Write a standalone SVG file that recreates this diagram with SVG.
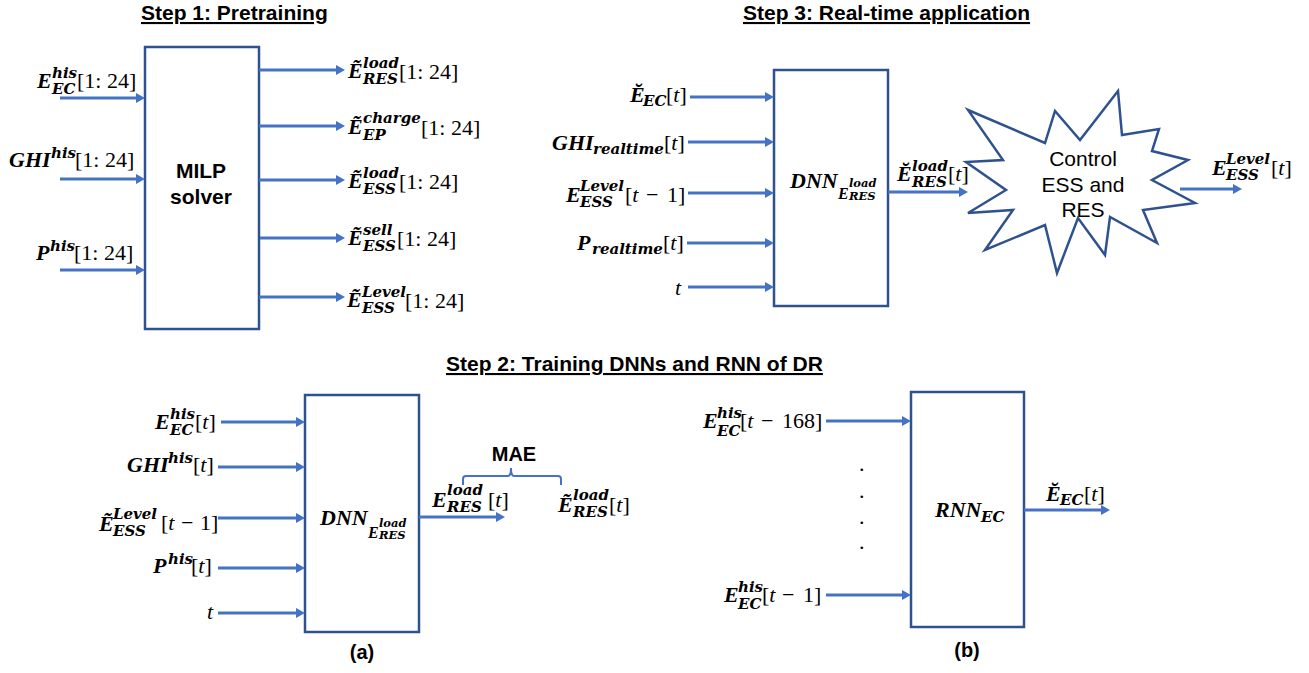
<svg xmlns="http://www.w3.org/2000/svg" width="1309" height="673" viewBox="0 0 1309 673">
<style>
.title{font-family:"Liberation Sans",Arial,sans-serif;font-weight:bold;font-size:21px;text-decoration:underline;fill:#000}
.box{fill:#fff;stroke:#2F528F;stroke-width:2.5}
.btxt{font-family:"Liberation Sans",Arial,sans-serif;font-weight:bold;font-size:21px;fill:#000;text-anchor:middle}
.rtxt{font-family:"Liberation Sans",Arial,sans-serif;font-size:21px;fill:#000;text-anchor:middle}
.cap{font-family:"Liberation Sans",Arial,sans-serif;font-weight:bold;font-size:20px;fill:#000;text-anchor:middle}
.arr{stroke:#4472C4;stroke-width:3;fill:none;marker-end:url(#ah)}
.v{font-family:"Liberation Serif","Times New Roman",serif;font-weight:bold;font-style:italic;font-size:22px;fill:#000}
.s{font-family:"DejaVu Serif",serif;font-weight:bold;font-style:italic;font-size:15px;fill:#000}
.ss{font-family:"DejaVu Serif",serif;font-weight:bold;font-style:italic;font-size:11.5px;fill:#000}
.sv{font-family:"Liberation Serif","Times New Roman",serif;font-weight:bold;font-style:italic;font-size:16px;fill:#000}
.b{font-family:"Liberation Serif","Times New Roman",serif;font-size:22px;fill:#000}
.it{font-style:italic}
</style>
<defs>
<marker id="ah" markerUnits="userSpaceOnUse" markerWidth="11" markerHeight="11" refX="2" refY="5" orient="auto">
<path d="M0,0 L9,5 L0,10 Z" fill="#4472C4"/>
</marker>
</defs>

<g id="titles">
<text class="title" x="141" y="20">Step 1: Pretraining</text>
<text class="title" x="743" y="20">Step 3: Real-time application</text>
<text class="title" x="446" y="371">Step 2: Training DNNs and RNN of DR</text>
<text class="cap" x="362" y="659">(a)</text>
<text class="cap" x="967" y="657">(b)</text>
</g>

<g id="milp-solver">
<rect class="box" x="145" y="47" width="114" height="282"/>
<text class="btxt" x="201" y="178">MILP</text>
<text class="btxt" x="201" y="204">solver</text>
</g>

<g id="dnn-realtime">
<rect class="box" x="774" y="70" width="114" height="236"/>
<text><tspan class="v" x="790" y="188">DNN</tspan><tspan class="sv" x="838" y="199">E</tspan><tspan class="ss" x="849" y="187">load</tspan><tspan class="ss" x="849" y="200">RES</tspan></text>
</g>

<g id="control-star">
<polygon class="box" points="968,110 1045,143 1055,111 1080,140 1118,91 1122,135 1159,129 1152,151 1188,160 1152,180 1195,203 1143,210 1157,243 1110,217 1105,255 1078,218 1057,273 1045,225 985,250 1013,210 968,213 1006,190 966,162 1003,160"/>
<text class="rtxt" x="1083" y="166">Control</text>
<text class="rtxt" x="1083" y="192">ESS and</text>
<text class="rtxt" x="1083" y="217">RES</text>
</g>

<g id="dnn-train">
<rect class="box" x="305" y="395" width="114" height="237"/>
<text><tspan class="v" x="320" y="525">DNN</tspan><tspan class="sv" x="368" y="538">E</tspan><tspan class="ss" x="379" y="527">load</tspan><tspan class="ss" x="379" y="539">RES</tspan></text>
</g>

<g id="rnn-train">
<rect class="box" x="911" y="392" width="113" height="235"/>
<text><tspan class="v" x="935" y="517">RNN</tspan><tspan class="s" x="981" y="522">EC</tspan></text>
</g>

<g id="connectors">
<line class="arr" x1="60" y1="98" x2="138" y2="98"/>
<line class="arr" x1="60" y1="179" x2="138" y2="179"/>
<line class="arr" x1="60" y1="270" x2="138" y2="270"/>
<line class="arr" x1="259" y1="70" x2="338" y2="70"/>
<line class="arr" x1="259" y1="126" x2="338" y2="126"/>
<line class="arr" x1="259" y1="180" x2="338" y2="180"/>
<line class="arr" x1="260" y1="238" x2="338" y2="238"/>
<line class="arr" x1="259" y1="297" x2="338" y2="297"/>

<line class="arr" x1="690" y1="97" x2="767" y2="97"/>
<line class="arr" x1="688" y1="142" x2="767" y2="142"/>
<line class="arr" x1="688" y1="193" x2="767" y2="193"/>
<line class="arr" x1="687" y1="243" x2="767" y2="243"/>
<line class="arr" x1="688" y1="287" x2="767" y2="287"/>
<line class="arr" x1="888" y1="192" x2="961" y2="192"/>
<line class="arr" x1="1180" y1="189" x2="1235" y2="189"/>

<line class="arr" x1="221" y1="422" x2="298" y2="422"/>
<line class="arr" x1="218" y1="467" x2="298" y2="467"/>
<line class="arr" x1="218" y1="518" x2="298" y2="518"/>
<line class="arr" x1="218" y1="568" x2="298" y2="568"/>
<line class="arr" x1="218" y1="613" x2="298" y2="613"/>
<line class="arr" x1="419" y1="517" x2="498" y2="517"/>
<path d="M463,485 V479 Q463,476 466,476 H508 Q511,476 511,468 Q511,476 514,476 H558 Q561,476 561,479 V485" fill="none" stroke="#4472C4" stroke-width="2"/>

<line class="arr" x1="826" y1="421" x2="904" y2="421"/>
<line class="arr" x1="826" y1="595" x2="904" y2="595"/>
<line class="arr" x1="1024" y1="510" x2="1103" y2="510"/>
</g>

<g id="labels">
<!-- Step 1 inputs -->
<text><tspan class="v" x="37" y="88">E</tspan><tspan class="s" x="52" y="78">his</tspan><tspan class="s" x="52" y="94">EC</tspan><tspan class="b" x="77" y="88">[1: 24]</tspan></text>
<text><tspan class="v" x="9" y="167">GHI</tspan><tspan class="s" x="51" y="158">his</tspan><tspan class="b" x="75" y="167">[1: 24]</tspan></text>
<text><tspan class="v" x="36" y="260">P</tspan><tspan class="s" x="50" y="251">his</tspan><tspan class="b" x="74" y="260">[1: 24]</tspan></text>
<!-- Step 1 outputs -->
<text><tspan class="v" x="348" y="78">Ẽ</tspan><tspan class="s" x="363" y="68">load</tspan><tspan class="s" x="363" y="84">RES</tspan><tspan class="b" x="399" y="79">[1: 24]</tspan></text>
<text><tspan class="v" x="348" y="134">Ẽ</tspan><tspan class="s" x="363" y="123">charge</tspan><tspan class="s" x="363" y="140">EP</tspan><tspan class="b" x="421" y="135">[1: 24]</tspan></text>
<text><tspan class="v" x="348" y="188">Ẽ</tspan><tspan class="s" x="363" y="178">load</tspan><tspan class="s" x="363" y="194">ESS</tspan><tspan class="b" x="399" y="189">[1: 24]</tspan></text>
<text><tspan class="v" x="348" y="245">Ẽ</tspan><tspan class="s" x="363" y="235">sell</tspan><tspan class="s" x="363" y="251">ESS</tspan><tspan class="b" x="397" y="246">[1: 24]</tspan></text>
<text><tspan class="v" x="347" y="307">Ẽ</tspan><tspan class="s" x="362" y="297">Level</tspan><tspan class="s" x="362" y="313">ESS</tspan><tspan class="b" x="405" y="308">[1: 24]</tspan></text>
<!-- Step 3 inputs -->
<text><tspan class="v" x="630" y="102">Ĕ</tspan><tspan class="s" x="643" y="106">EC</tspan><tspan class="b" x="666" y="102">[<tspan class="it">t</tspan>]</tspan></text>
<text><tspan class="v" x="552" y="150">GHI</tspan><tspan class="s" x="593" y="154">realtime</tspan><tspan class="b" x="664" y="150">[<tspan class="it">t</tspan>]</tspan></text>
<text><tspan class="v" x="566" y="202">E</tspan><tspan class="s" x="580" y="191">Level</tspan><tspan class="s" x="580" y="207">ESS</tspan><tspan class="b" x="625" y="202">[<tspan class="it">t</tspan></tspan><tspan class="b" x="646" y="202">−</tspan><tspan class="b" x="667" y="202">1]</tspan></text>
<text><tspan class="v" x="577" y="250">P</tspan><tspan class="s" x="592" y="254">realtime</tspan><tspan class="b" x="663" y="250">[<tspan class="it">t</tspan>]</tspan></text>
<text class="b it" x="675" y="295">t</text>
<!-- Step 3 outputs -->
<text><tspan class="v" x="897" y="181">Ĕ</tspan><tspan class="s" x="912" y="171">load</tspan><tspan class="s" x="912" y="187">RES</tspan><tspan class="b" x="948" y="181">[<tspan class="it">t</tspan>]</tspan></text>
<text><tspan class="v" x="1212" y="175">E</tspan><tspan class="s" x="1226" y="164">Level</tspan><tspan class="s" x="1226" y="180">ESS</tspan><tspan class="b" x="1271" y="175">[<tspan class="it">t</tspan>]</tspan></text>
<!-- Step 2 (a) -->
<text><tspan class="v" x="155" y="429">E</tspan><tspan class="s" x="170" y="419">his</tspan><tspan class="s" x="170" y="435">EC</tspan><tspan class="b" x="195" y="429">[<tspan class="it">t</tspan>]</tspan></text>
<text><tspan class="v" x="127" y="472">GHI</tspan><tspan class="s" x="168" y="463">his</tspan><tspan class="b" x="193" y="472">[<tspan class="it">t</tspan>]</tspan></text>
<text><tspan class="v" x="99" y="531">Ẽ</tspan><tspan class="s" x="113" y="519">Level</tspan><tspan class="s" x="113" y="536">ESS</tspan><tspan class="b" x="161" y="530">[<tspan class="it">t</tspan></tspan><tspan class="b" x="181" y="530">−</tspan><tspan class="b" x="200" y="530">1]</tspan></text>
<text><tspan class="v" x="153" y="573">P</tspan><tspan class="s" x="168" y="564">his</tspan><tspan class="b" x="191" y="573">[<tspan class="it">t</tspan>]</tspan></text>
<text class="b it" x="207" y="619">t</text>
<text class="cap" x="514" y="461">MAE</text>
<text><tspan class="v" x="432" y="507">E</tspan><tspan class="s" x="447" y="495">load</tspan><tspan class="s" x="447" y="512">RES</tspan><tspan class="b" x="488" y="507">[<tspan class="it">t</tspan>]</tspan></text>
<text><tspan class="v" x="558" y="512">Ẽ</tspan><tspan class="s" x="573" y="500">load</tspan><tspan class="s" x="573" y="517">RES</tspan><tspan class="b" x="609" y="512">[<tspan class="it">t</tspan>]</tspan></text>
<!-- Step 2 (b) -->
<text><tspan class="v" x="703" y="428">E</tspan><tspan class="s" x="717" y="418">his</tspan><tspan class="s" x="717" y="436">EC</tspan><tspan class="b" x="740" y="428">[<tspan class="it">t</tspan></tspan><tspan class="b" x="761" y="428">−</tspan><tspan class="b" x="782" y="428">168]</tspan></text>
<text><tspan class="v" x="724" y="602">E</tspan><tspan class="s" x="738" y="592">his</tspan><tspan class="s" x="738" y="609">EC</tspan><tspan class="b" x="762" y="602">[<tspan class="it">t</tspan></tspan><tspan class="b" x="782" y="602">−</tspan><tspan class="b" x="803" y="602">1]</tspan></text>
<text class="b" x="859" y="471">.</text>
<text class="b" x="859" y="498">.</text>
<text class="b" x="859" y="524">.</text>
<text class="b" x="859" y="549">.</text>
<text><tspan class="v" x="1046" y="501">Ĕ</tspan><tspan class="s" x="1060" y="505">EC</tspan><tspan class="b" x="1084" y="501">[<tspan class="it">t</tspan>]</tspan></text>
</g>
</svg>
